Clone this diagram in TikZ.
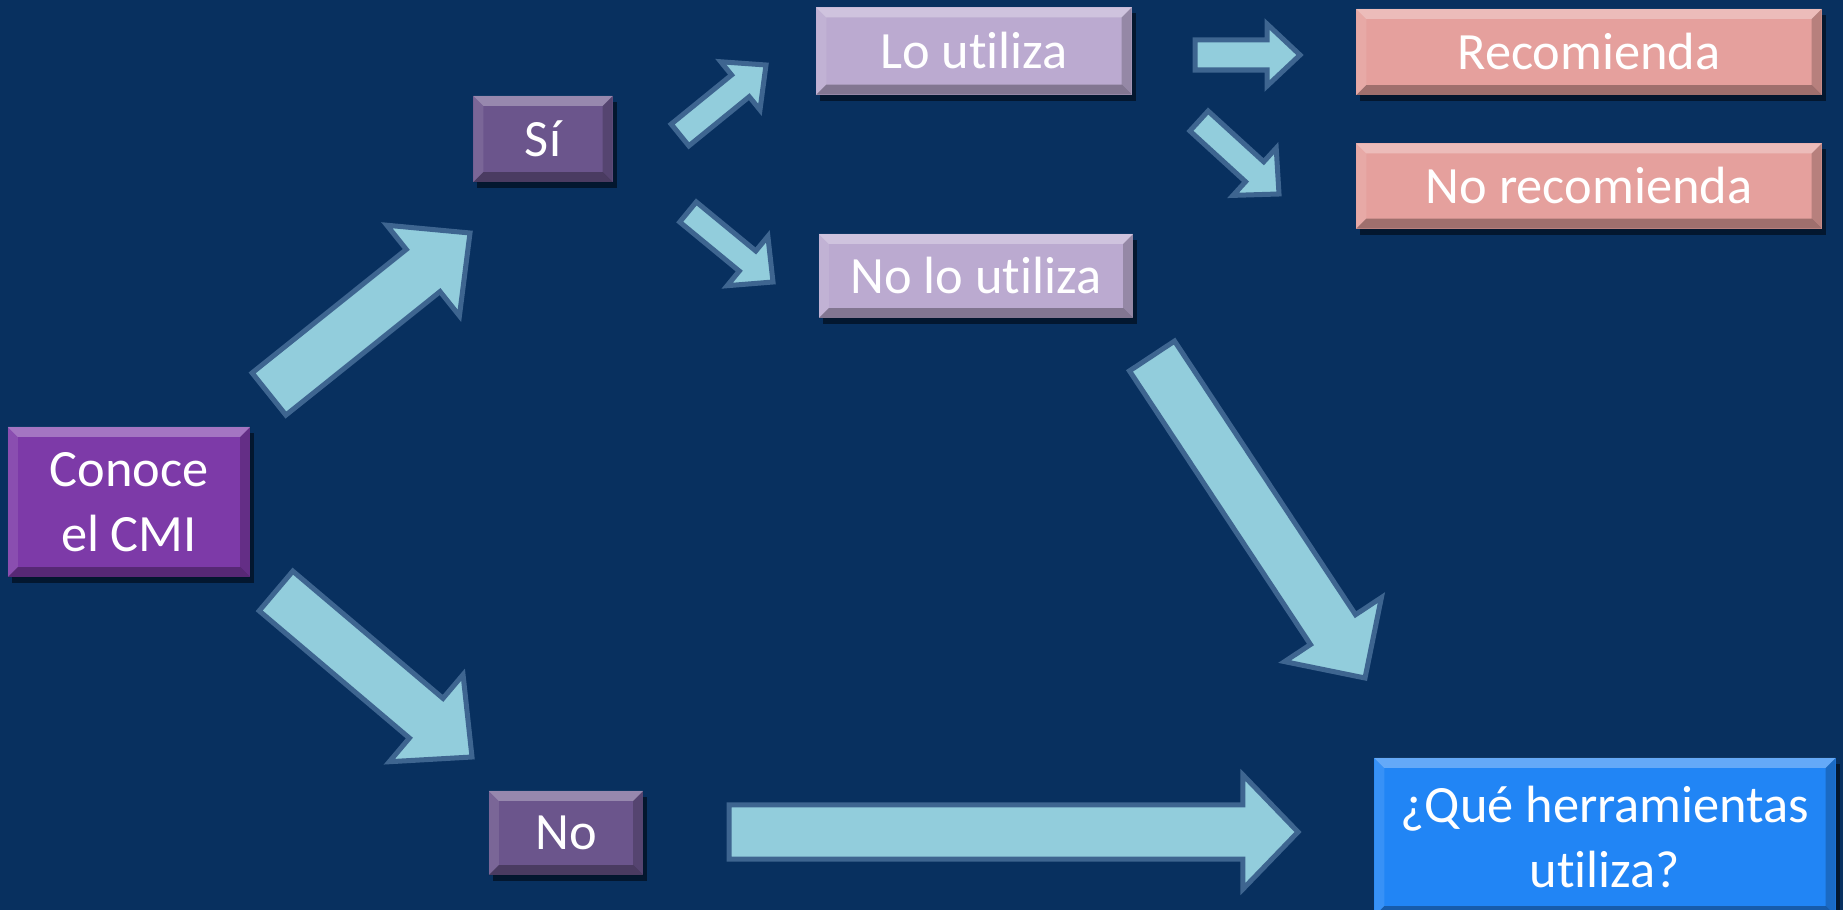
\documentclass[tikz,border=0pt]{standalone}
\usepackage{fontspec}
\setmainfont{Carlito}[Ligatures=NoCommon]
\usepackage{tikz}
\usetikzlibrary{calc, shadows, positioning}

\definecolor{bgblue}{RGB}{8,48,95}
\definecolor{arrowfill}{RGB}{146,205,220}
\definecolor{arrowline}{RGB}{62,101,144}
\definecolor{cmipurple}{RGB}{125,58,168}
\definecolor{answer}{RGB}{107,85,140}
\definecolor{lilac}{RGB}{187,170,208}
\definecolor{salmon}{RGB}{229,160,157}
\definecolor{question}{RGB}{33,133,245}

% bevelled edges of a box
\newcommand{\boxbevel}{%
  \fill[white, opacity=0.3] (path picture bounding box.north west) -- (path picture bounding box.north east)
    -- ([shift={(-0.1cm,-0.1cm)}]path picture bounding box.north east) -- ([shift={(0.1cm,-0.1cm)}]path picture bounding box.north west) -- cycle;
  \fill[black, opacity=0.3] (path picture bounding box.south west) -- (path picture bounding box.south east)
    -- ([shift={(-0.1cm,0.1cm)}]path picture bounding box.south east) -- ([shift={(0.1cm,0.1cm)}]path picture bounding box.south west) -- cycle;
  \fill[white, opacity=0.1] (path picture bounding box.north west) -- ([shift={(0.1cm,-0.1cm)}]path picture bounding box.north west)
    -- ([shift={(0.1cm,0.1cm)}]path picture bounding box.south west) -- (path picture bounding box.south west) -- cycle;
  \fill[black, opacity=0.2] (path picture bounding box.north east) -- ([shift={(-0.1cm,-0.1cm)}]path picture bounding box.north east)
    -- ([shift={(-0.1cm,0.1cm)}]path picture bounding box.south east) -- (path picture bounding box.south east) -- cycle;
}

% tail, tip, half shaft, half head, head length
\newcommand{\blockarrow}[5]{%
  \coordinate (hb) at ($(#2)!#5!(#1)$);
  \draw[flow] ($(#1)!#3!90:(#2)$) -- ($(hb)!#3!-90:(#1)$) -- ($(hb)!#4!-90:(#1)$) -- (#2)
    -- ($(hb)!#4!90:(#1)$) -- ($(hb)!#3!90:(#1)$) -- ($(#1)!#3!-90:(#2)$) -- cycle;
}

\tikzset{
  box/.style={rectangle, fill=#1, text=white, align=center, inner sep=0pt,
    font=\fontsize{14.9}{18.5}\selectfont,
    drop shadow={shadow xshift=0.04cm, shadow yshift=-0.06cm, opacity=0.5, fill=black},
    path picture={\boxbevel}},
  flow/.style={fill=arrowfill, draw=arrowline, line width=0.5mm, line join=miter},
}

\begin{document}
\begin{tikzpicture}[x=0.01cm, y=-0.01cm]
    \useasboundingbox (0,0) rectangle (1843,910);
    \clip (0,0) rectangle (1843,910);
    \fill[bgblue] (0,0) rectangle (1843,910);

    % Boxes
    \node[box=cmipurple, minimum width=2.42cm, minimum height=1.50cm] (cmi) at (129,502) {Conoce\\el CMI};
    \node[box=answer, minimum width=1.39cm, minimum height=0.86cm] (si) at (543,139) {Sí};
    \node[box=answer, minimum width=1.54cm, minimum height=0.84cm] (no) at (566,833) {No};
    \node[box=lilac, minimum width=3.15cm, minimum height=0.87cm] (usa) at (974,51) {Lo utiliza};
    \node[box=lilac, minimum width=3.14cm, minimum height=0.84cm] (nousa) at (976,276) {No lo utiliza};
    \node[box=salmon, minimum width=4.65cm, minimum height=0.86cm] (rec) at (1589,52) {Recomienda};
    \node[box=salmon, minimum width=4.65cm, minimum height=0.85cm] (norec) at (1589,186) {No recomienda};
    \node[box=question, minimum width=4.61cm, minimum height=1.58cm] (que) at (1605,837) {¿Qué herramientas\\utiliza?};

    % Arrow ends
    \coordinate (cmisi1) at (269,394);   \coordinate (cmisi2) at (470,233);
    \coordinate (cmino1) at (276,591);   \coordinate (cmino2) at (472,757);
    \coordinate (nousaque1) at (1152,356); \coordinate (nousaque2) at (1365,678);
    \coordinate (noque1) at (729,832);   \coordinate (noque2) at (1298,832);
    \coordinate (siusa1) at (680,135);   \coordinate (siusa2) at (766,65);
    \coordinate (sinousa1) at (688,212); \coordinate (sinousa2) at (773,282);
    \coordinate (usarec1) at (1195,55);  \coordinate (usarec2) at (1300,55);
    \coordinate (usanorec1) at (1199,121); \coordinate (usanorec2) at (1279,194);

    % Big arrows
    \blockarrow{cmisi1}{cmisi2}{0.27cm}{0.58cm}{0.60cm}
    \blockarrow{cmino1}{cmino2}{0.26cm}{0.57cm}{0.60cm}
    \blockarrow{nousaque1}{nousaque2}{0.27cm}{0.58cm}{0.58cm}
    \blockarrow{noque1}{noque2}{0.27cm}{0.57cm}{0.55cm}

    % Small arrows
    \blockarrow{siusa1}{siusa2}{0.14cm}{0.31cm}{0.33cm}
    \blockarrow{sinousa1}{sinousa2}{0.13cm}{0.32cm}{0.33cm}
    \blockarrow{usarec1}{usarec2}{0.15cm}{0.31cm}{0.33cm}
    \blockarrow{usanorec1}{usanorec2}{0.135cm}{0.32cm}{0.33cm}
\end{tikzpicture}
\end{document}
